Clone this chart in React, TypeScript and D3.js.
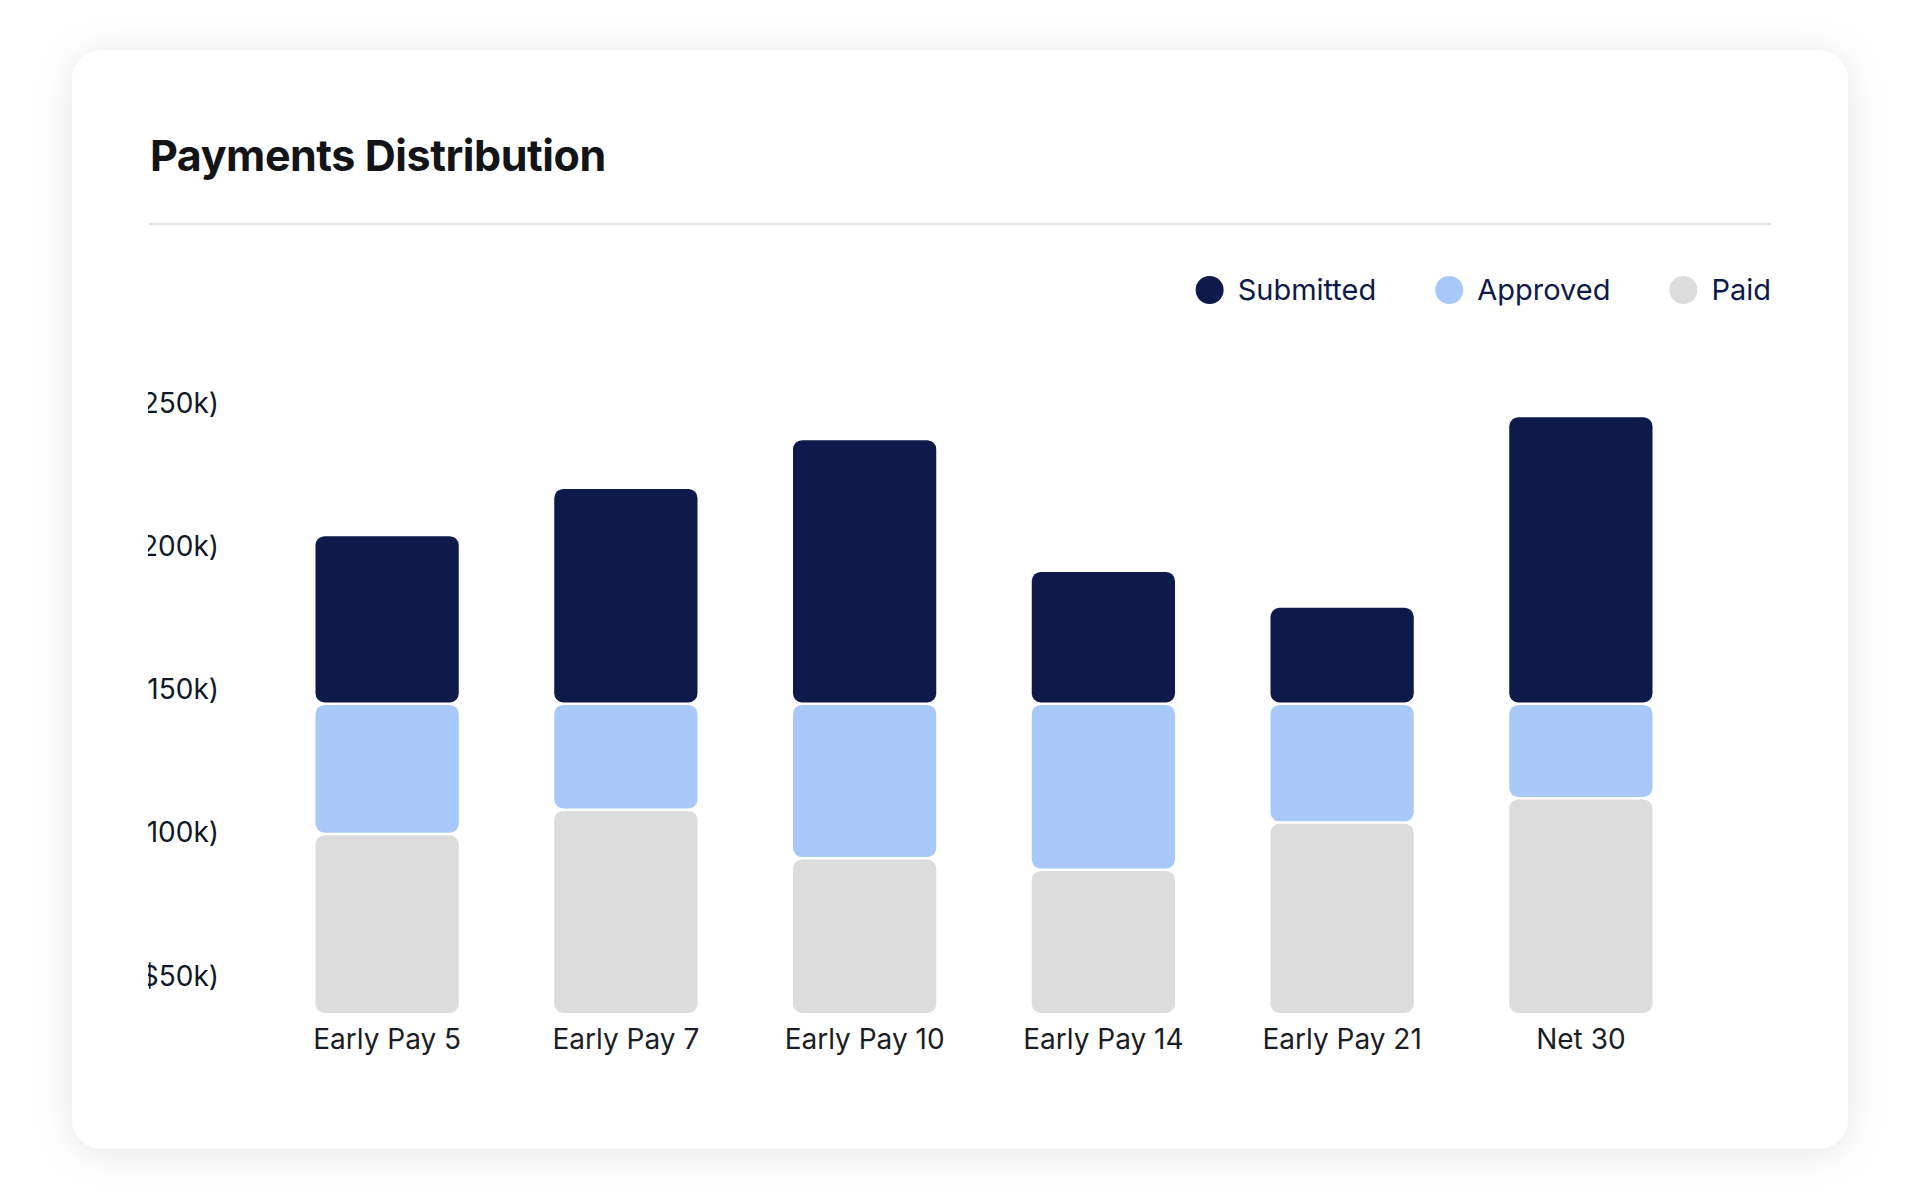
import { useEffect, useRef } from "react";
import * as d3 from "d3";

const categories = ["Early Pay 5", "Early Pay 7", "Early Pay 10", "Early Pay 14", "Early Pay 21", "Net 30"];
const paid = [99.5, 108, 91, 87, 103.5, 112];
const approved = [45.5, 37, 54, 58, 41.5, 33];
const submitted = [58.5, 75, 92, 46, 33.5, 100];
const yTicks = [50, 100, 150, 200, 250];
const yMin = 37;
const yMax = 250;

const seriesKeys = ["Paid", "Approved", "Submitted"];
const legendKeys = ["Submitted", "Approved", "Paid"];
const colors: Record<string, string> = {
  Submitted: "#0d1a4a",
  Approved: "#a8c8fa",
  Paid: "#dcdcdc",
};

const WIDTH = 1920;
const HEIGHT = 1200;
const FONT = "Inter, 'Noto Sans', sans-serif";

export default function App() {
  const svgRef = useRef<SVGSVGElement>(null);

  useEffect(() => {
    if (!svgRef.current) return;
    const svg = d3.select(svgRef.current);
    svg.selectAll("*").remove();

    const defs = svg.append("defs");
    const filter = defs.append("filter")
      .attr("id", "cardShadow")
      .attr("x", "-10%").attr("y", "-10%")
      .attr("width", "120%").attr("height", "120%");
    filter.append("feDropShadow")
      .attr("dx", 0).attr("dy", 4)
      .attr("stdDeviation", 18)
      .attr("flood-color", "#000")
      .attr("flood-opacity", 0.1);

    defs.append("clipPath").attr("id", "contentClip")
      .append("rect")
      .attr("x", 148).attr("y", 0)
      .attr("width", 1700).attr("height", HEIGHT);

    // Card
    svg.append("rect")
      .attr("x", 72).attr("y", 50)
      .attr("width", 1776).attr("height", 1099)
      .attr("rx", 30)
      .attr("fill", "#ffffff")
      .attr("filter", "url(#cardShadow)");

    // Title
    svg.append("text")
      .attr("x", 150).attr("y", 171)
      .attr("font-family", FONT)
      .attr("font-weight", 700)
      .attr("font-size", "43px")
      .attr("letter-spacing", "-0.45px")
      .attr("fill", "#121418")
      .text("Payments Distribution");

    svg.append("line")
      .attr("x1", 149).attr("x2", 1771)
      .attr("y1", 224).attr("y2", 224)
      .attr("stroke", "#e2e2e2")
      .attr("stroke-width", 2);

    // Legend (right aligned)
    const legend = svg.append("g");
    let cursor = 1771;
    [...legendKeys].reverse().forEach((key) => {
      const t = legend.append("text")
        .attr("y", 300)
        .attr("font-family", FONT)
        .attr("font-size", "29px")
        .attr("fill", "#0d1a4a")
        .text(key);
      const w = (t.node() as SVGTextElement).getComputedTextLength();
      const tx = cursor - w;
      t.attr("x", tx);
      legend.append("circle")
        .attr("cx", tx - 28).attr("cy", 290)
        .attr("r", 14)
        .attr("fill", colors[key]);
      cursor = tx - 28 - 14 - 59;
    });

    // Scales
    const x = d3.scaleBand<string>()
      .domain(categories)
      .range([220, 1748])
      .paddingInner(0.4)
      .paddingOuter(0.4);

    const y = d3.scaleLinear()
      .domain([yMin, yMax])
      .range([1013, 403])
      .clamp(true);

    const rows = categories.map((c, i) => ({
      category: c,
      Paid: paid[i],
      Approved: approved[i],
      Submitted: submitted[i],
    }));
    const stacked = d3.stack<any>().keys(seriesKeys)(rows);

    const gap = 2.5;
    const bars = svg.append("g");
    stacked.forEach((layer, li) => {
      const key = layer.key;
      bars.append("g")
        .selectAll("rect")
        .data(layer)
        .join("rect")
        .attr("x", (d: any) => x(d.data.category)!)
        .attr("width", x.bandwidth())
        .attr("y", (d: any) => y(d[1]) + (li < stacked.length - 1 ? gap / 2 : 0))
        .attr("height", (d: any) => {
          const top = y(d[1]) + (li < stacked.length - 1 ? gap / 2 : 0);
          const bottom = y(d[0]) - (li > 0 ? gap / 2 : 0);
          return Math.max(0, bottom - top);
        })
        .attr("rx", 9)
        .attr("fill", colors[key]);
    });

    // Y axis (labels only, clipped at content edge)
    const yAxis = d3.axisLeft(y)
      .tickValues(yTicks)
      .tickSize(0)
      .tickPadding(1)
      .tickFormat((d) => `($${d}k)`);
    const yg = svg.append("g")
      .attr("clip-path", "url(#contentClip)")
      .append("g")
      .attr("transform", "translate(220,0)")
      .call(yAxis);
    yg.select(".domain").remove();
    yg.selectAll("text")
      .attr("font-family", FONT)
      .attr("font-size", "28px")
      .attr("fill", "#111827")
      .attr("dy", "0.33em");

    // X axis labels
    const xAxis = d3.axisBottom(x).tickSize(0).tickPadding(16);
    const xg = svg.append("g")
      .attr("transform", "translate(0,1013)")
      .call(xAxis);
    xg.select(".domain").remove();
    xg.selectAll("text")
      .attr("font-family", FONT)
      .attr("font-size", "28px")
      .attr("fill", "#1a1d26");
  }, []);

  return (
    <svg
      ref={svgRef}
      width={WIDTH}
      height={HEIGHT}
      style={{ position: "absolute", left: 0, top: 0, background: "#ffffff" }}
    />
  );
}
